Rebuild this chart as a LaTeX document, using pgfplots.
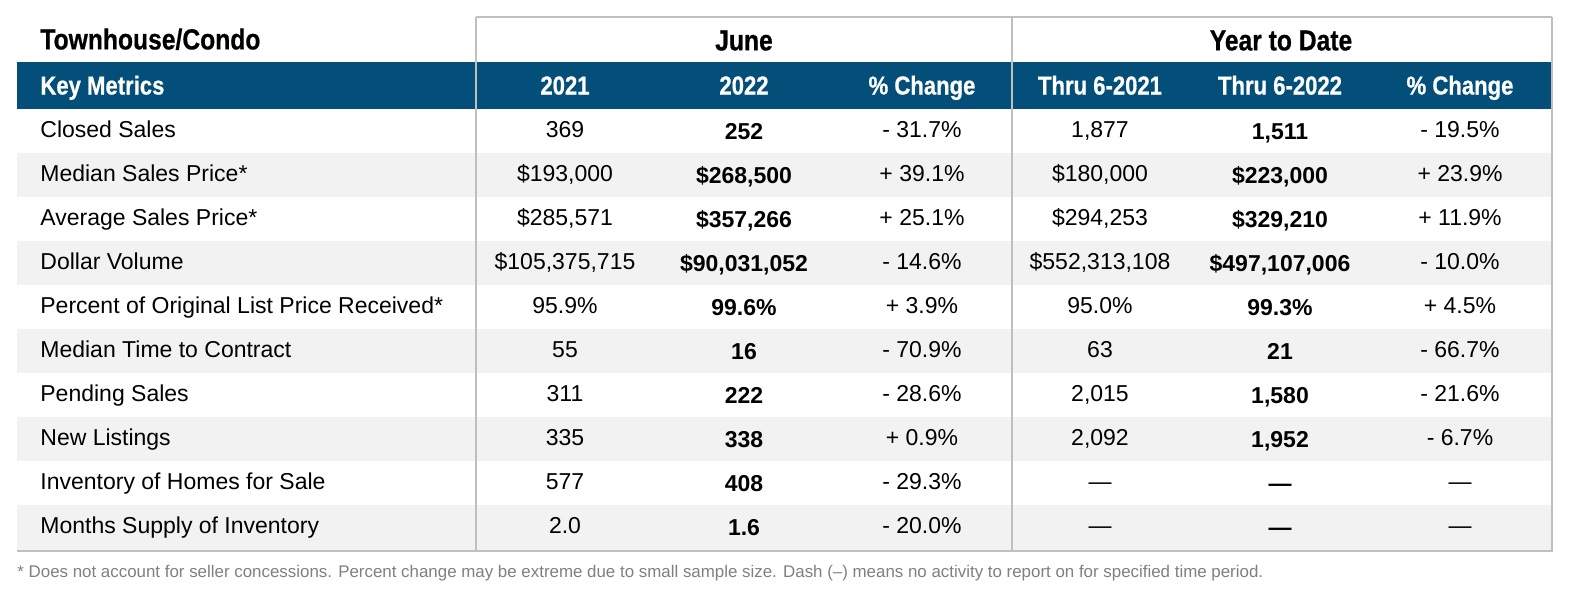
\documentclass[border=0pt]{standalone}
\usepackage{pgfplots}
\pgfplotsset{compat=1.18}
\usepackage{fontspec}
\setmainfont{Liberation Sans}
\newfontfamily\cond[FakeStretch=0.85,FakeBold=0.6]{Liberation Sans}
\definecolor{hdrblue}{RGB}{3,79,122}
\definecolor{rowgray}{RGB}{242,242,242}
\definecolor{linegray}{RGB}{191,191,191}
\definecolor{notegray}{RGB}{128,128,128}
\newcommand{\bodyfont}{\fontsize{11.5pt}{13pt}\selectfont}
\newcommand{\hdrfont}{\cond\bfseries\fontsize{13pt}{15pt}\selectfont}
\newcommand{\ttlfont}{\cond\bfseries\fontsize{14.5pt}{16pt}\selectfont}
\newcommand{\notefont}{\fontsize{8.45pt}{10pt}\selectfont}
% one table row: #1 = row centre (px from top), #2 label, #3-#8 cell values
\newcommand{\datarow}[8]{%
  \node[anchor=base west,inner sep=0,font=\bodyfont] at (axis cs:40,#1+6.5) {#2};
  \node[anchor=base,inner sep=0,font=\bodyfont] at (axis cs:565,#1+6.5) {#3};
  \node[anchor=base,inner sep=0,font=\bodyfont\bfseries] at (axis cs:744,#1+8.5) {#4};
  \node[anchor=base,inner sep=0,font=\bodyfont] at (axis cs:922,#1+6.5) {#5};
  \node[anchor=base,inner sep=0,font=\bodyfont] at (axis cs:1100,#1+6.5) {#6};
  \node[anchor=base,inner sep=0,font=\bodyfont\bfseries] at (axis cs:1280,#1+8.5) {#7};
  \node[anchor=base,inner sep=0,font=\bodyfont] at (axis cs:1460,#1+6.5) {#8};
}
\begin{document}
\begin{tikzpicture}
\begin{axis}[scale only axis, width=789pt, height=295pt,
  xmin=0, xmax=1578, ymin=0, ymax=590, y dir=reverse,
  hide axis, clip=false]
\fill[white] (axis cs:0,0) rectangle (axis cs:1578,590);
% header bar
\fill[hdrblue] (axis cs:17,62) rectangle (axis cs:1552,108.5);
% alternating gray rows
\fill[rowgray] (axis cs:17,152.6) rectangle (axis cs:1552,196.7);
\fill[rowgray] (axis cs:17,240.8) rectangle (axis cs:1552,284.9);
\fill[rowgray] (axis cs:17,329.0) rectangle (axis cs:1552,373.1);
\fill[rowgray] (axis cs:17,417.2) rectangle (axis cs:1552,461.3);
\fill[rowgray] (axis cs:17,505.4) rectangle (axis cs:1552,549.5);
% borders
\draw[linegray, line width=1pt] (axis cs:476,17) -- (axis cs:1552,17);
\draw[linegray, line width=1pt] (axis cs:476,17) -- (axis cs:476,550.5);
\draw[linegray, line width=1pt] (axis cs:1012,17) -- (axis cs:1012,550.5);
\draw[linegray, line width=1pt] (axis cs:1552,16.5) -- (axis cs:1552,551.5);
\draw[linegray, line width=1pt] (axis cs:17,550.5) -- (axis cs:1552,550.5);
% titles
\node[anchor=base west,inner sep=0,font=\ttlfont] at (axis cs:40,49.4) {Townhouse/Condo};
\node[anchor=base,inner sep=0,font=\ttlfont] at (axis cs:744,50.4) {June};
\node[anchor=base,inner sep=0,font=\ttlfont] at (axis cs:1281,50.4) {Year to Date};
% header cells
\node[anchor=base west,inner sep=0,font=\hdrfont,text=white] at (axis cs:40,94.5) {Key Metrics};
\node[anchor=base,inner sep=0,font=\hdrfont,text=white] at (axis cs:565,94.5) {2021};
\node[anchor=base,inner sep=0,font=\hdrfont,text=white] at (axis cs:744,94.5) {2022};
\node[anchor=base,inner sep=0,font=\hdrfont,text=white] at (axis cs:922,94.5) {\% Change};
\node[anchor=base,inner sep=0,font=\hdrfont,text=white] at (axis cs:1100,94.5) {Thru 6-2021};
\node[anchor=base,inner sep=0,font=\hdrfont,text=white] at (axis cs:1280,94.5) {Thru 6-2022};
\node[anchor=base,inner sep=0,font=\hdrfont,text=white] at (axis cs:1460,94.5) {\% Change};
% data rows
\datarow{130.55}{Closed Sales}{369}{252}{- 31.7\%}{1,877}{1,511}{- 19.5\%}
\datarow{174.65}{Median Sales Price*}{\$193,000}{\$268,500}{+ 39.1\%}{\$180,000}{\$223,000}{+ 23.9\%}
\datarow{218.75}{Average Sales Price*}{\$285,571}{\$357,266}{+ 25.1\%}{\$294,253}{\$329,210}{+ 11.9\%}
\datarow{262.85}{Dollar Volume}{\$105,375,715}{\$90,031,052}{- 14.6\%}{\$552,313,108}{\$497,107,006}{- 10.0\%}
\datarow{306.95}{Percent of Original List Price Received*}{95.9\%}{99.6\%}{+ 3.9\%}{95.0\%}{99.3\%}{+ 4.5\%}
\datarow{351.05}{Median Time to Contract}{55}{16}{- 70.9\%}{63}{21}{- 66.7\%}
\datarow{395.15}{Pending Sales}{311}{222}{- 28.6\%}{2,015}{1,580}{- 21.6\%}
\datarow{439.25}{New Listings}{335}{338}{+ 0.9\%}{2,092}{1,952}{- 6.7\%}
\datarow{483.35}{Inventory of Homes for Sale}{577}{408}{- 29.3\%}{—}{—}{—}
\datarow{527.45}{Months Supply of Inventory}{2.0}{1.6}{- 20.0\%}{—}{—}{—}
% footnote
\node[anchor=base west,inner sep=0,font=\notefont,text=notegray] at (axis cs:17,577.8) {* Does not account for seller concessions. Percent change may be extreme due to small sample size. Dash (–) means no activity to report on for specified time period.};
\end{axis}
\end{tikzpicture}
\end{document}
